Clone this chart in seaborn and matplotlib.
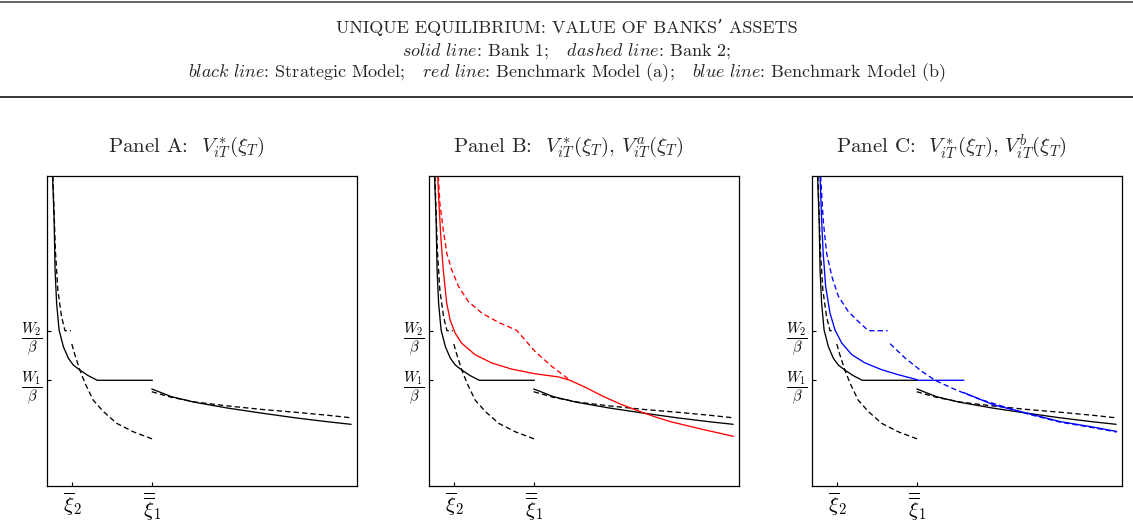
import numpy as np
import pandas as pd
import matplotlib
matplotlib.use("Agg")
import matplotlib.pyplot as plt
from matplotlib.lines import Line2D
import seaborn as sns

# ---------------- data (axes span 0..10 in both directions) -------------
x_ticks = [0.81, 3.40]
x_tick_labels = [r"$\overline{\xi}_2$", r"$\overline{\overline{\xi}}_1$"]
y_ticks = [3.41, 5.01]
y_tick_labels = [r"$\dfrac{W_1}{\beta}$", r"$\dfrac{W_2}{\beta}$"]

panel_titles = [r"Panel A:  $V^*_{iT}(\xi_T)$",
                r"Panel B:  $V^*_{iT}(\xi_T)$, $V^a_{iT}(\xi_T)$",
                r"Panel C:  $V^*_{iT}(\xi_T)$, $V^b_{iT}(\xi_T)$"]

# Strategic model, bank 1 (black solid)
strat1_seg1_x = [0.18, 0.23, 0.26, 0.31, 0.39, 0.53, 0.69, 0.85, 1.06, 1.33, 1.62, 3.40]
strat1_seg1_y = [10.0, 8.58, 6.97, 5.90, 5.03, 4.49, 4.12, 3.90, 3.74, 3.56, 3.41, 3.41]
strat1_seg2_x = [3.38, 4.02, 4.77, 5.85, 6.93, 8.00, 9.07, 9.81]
strat1_seg2_y = [3.13, 2.88, 2.70, 2.51, 2.35, 2.20, 2.07, 1.99]
# Strategic model, bank 2 (black dashed)
strat2_seg1_x = [0.19, 0.27, 0.35, 0.47, 0.58, 0.77]
strat2_seg1_y = [10.0, 7.61, 6.32, 5.46, 5.01, 5.01]
strat2_seg2_x = [0.80, 0.90, 1.06, 1.23, 1.49, 1.82, 2.25, 2.78, 3.39]
strat2_seg2_y = [4.58, 4.23, 3.74, 3.31, 2.77, 2.40, 2.02, 1.75, 1.52]
strat2_seg3_x = [3.38, 4.02, 4.77, 5.85, 6.93, 8.00, 9.07, 9.81]
strat2_seg3_y = [3.04, 2.86, 2.71, 2.58, 2.47, 2.38, 2.28, 2.20]

# Benchmark model (a), bank 1 (red solid)
benchA1_x = [0.28, 0.32, 0.38, 0.46, 0.57, 0.68, 0.84, 1.05, 1.48, 2.02, 2.67, 3.42, 4.17, 4.55,
             5.09, 5.62, 6.16, 6.70, 7.24, 7.77, 8.31, 8.85, 9.39, 9.82]
benchA1_y = [10.0, 9.13, 8.05, 6.98, 5.90, 5.36, 4.94, 4.61, 4.24, 3.97, 3.77, 3.62, 3.52, 3.41,
             3.16, 2.89, 2.65, 2.44, 2.25, 2.08, 1.95, 1.82, 1.70, 1.60]
# Benchmark model (a), bank 2 (red dashed)
benchA2_x = [0.30, 0.35, 0.46, 0.57, 0.73, 0.95, 1.27, 1.70, 2.24, 2.83, 3.42, 3.96, 4.55]
benchA2_y = [10.0, 9.13, 8.27, 7.52, 6.98, 6.44, 5.95, 5.58, 5.28, 5.02, 4.34, 3.86, 3.41]

# Benchmark model (b), bank 1 (blue solid)
benchB1_seg1_x = [0.26, 0.31, 0.36, 0.44, 0.58, 0.74, 0.96, 1.28, 1.71, 2.25, 2.78, 3.32, 3.43, 4.90]
benchB1_seg1_y = [10.0, 8.59, 7.52, 6.44, 5.58, 5.04, 4.61, 4.24, 3.97, 3.75, 3.59, 3.45, 3.41, 3.41]
benchB1_seg2_x = [4.88, 5.85, 6.93, 8.00, 9.07, 9.83]
benchB1_seg2_y = [3.02, 2.62, 2.35, 2.08, 1.90, 1.76]
# Benchmark model (b), bank 2 (blue dashed)
benchB2_seg1_x = [0.28, 0.36, 0.47, 0.64, 0.85, 1.17, 1.49, 1.82, 2.44]
benchB2_seg1_y = [10.0, 8.59, 7.52, 6.76, 6.12, 5.63, 5.31, 5.01, 5.01]
benchB2_seg2_x = [2.52, 3.00, 3.54, 3.97, 4.51, 4.94, 5.47, 6.93, 8.00, 9.07, 9.83]
benchB2_seg2_y = [4.59, 4.13, 3.70, 3.41, 3.16, 2.98, 2.78, 2.33, 2.06, 1.88, 1.74]


def seg_frame(x, y, model, bank, seg):
    return pd.DataFrame({"x": x, "y": y, "model": model, "bank": bank, "seg": seg})


strategic = [
    seg_frame(strat1_seg1_x, strat1_seg1_y, "strategic", "1", "s1a"),
    seg_frame(strat1_seg2_x, strat1_seg2_y, "strategic", "1", "s1b"),
    seg_frame(strat2_seg1_x, strat2_seg1_y, "strategic", "2", "s2a"),
    seg_frame(strat2_seg2_x, strat2_seg2_y, "strategic", "2", "s2b"),
    seg_frame(strat2_seg3_x, strat2_seg3_y, "strategic", "2", "s2c"),
]
bench_a = [
    seg_frame(benchA1_x, benchA1_y, "a", "1", "a1"),
    seg_frame(benchA2_x, benchA2_y, "a", "2", "a2"),
]
bench_b = [
    seg_frame(benchB1_seg1_x, benchB1_seg1_y, "b", "1", "b1a"),
    seg_frame(benchB1_seg2_x, benchB1_seg2_y, "b", "1", "b1b"),
    seg_frame(benchB2_seg1_x, benchB2_seg1_y, "b", "2", "b2a"),
    seg_frame(benchB2_seg2_x, benchB2_seg2_y, "b", "2", "b2b"),
]
panels = [pd.concat(strategic), pd.concat(strategic + bench_a), pd.concat(strategic + bench_b)]

# ---------------- style ----------------
sns.set_style("white")
plt.rcParams["font.family"] = ["cmr10", "DejaVu Serif"]
plt.rcParams["mathtext.fontset"] = "cm"
plt.rcParams["axes.formatter.use_mathtext"] = True

palette = {"strategic": "black", "a": "#ff0000", "b": "#0000ff"}
dashes = {"1": "", "2": (4, 2.4)}

W, H = 1133, 525
fig = plt.figure(figsize=(W / 100, H / 100), dpi=100)

ax_lefts = [47, 429, 812]
ax_w, ax_h, ax_bottom = 310, 310, 39

for i, (left, df) in enumerate(zip(ax_lefts, panels)):
    ax = fig.add_axes([left / W, ax_bottom / H, ax_w / W, ax_h / H])
    sns.lineplot(data=df, x="x", y="y", hue="model", style="bank", units="seg",
                 estimator=None, sort=False, palette=palette, dashes=dashes,
                 hue_order=[m for m in ["strategic", "a", "b"] if m in df["model"].unique()],
                 linewidth=0.95, legend=False, ax=ax)
    ax.set_xlim(0, 10)
    ax.set_ylim(0, 10)
    ax.set_xlabel("")
    ax.set_ylabel("")
    ax.set_xticks(x_ticks)
    ax.set_xticklabels(x_tick_labels, fontsize=15)
    ax.set_yticks(y_ticks)
    ax.set_yticklabels(y_tick_labels, fontsize=10.5)
    ax.tick_params(axis="both", direction="in", length=3, width=0.8, colors="black",
                   bottom=True, left=True, top=False, right=False, pad=3)
    for sp in ax.spines.values():
        sp.set_color("black")
        sp.set_linewidth(0.9)
        sp.set_visible(True)
    ax.text(0.45, 1 + 29 / ax_h, panel_titles[i], transform=ax.transAxes,
            ha="center", va="center", fontsize=15)

# header
fig.add_artist(Line2D([0, 1], [1 - 2 / H, 1 - 2 / H], color="0.3", lw=1.2))
fig.add_artist(Line2D([0, 1], [1 - 97 / H, 1 - 97 / H], color="black", lw=1.1))
fig.text(0.5, 1 - 27 / H, "UNIQUE EQUILIBRIUM: VALUE OF BANKS\u2019 ASSETS",
         ha="center", va="center", fontsize=13)
fig.text(0.5, 1 - 51 / H,
         r"$\mathit{solid\ line}$: Bank 1;   $\mathit{dashed\ line}$: Bank 2;",
         ha="center", va="center", fontsize=13)
fig.text(0.5, 1 - 73 / H,
         r"$\mathit{black\ line}$: Strategic Model;   $\mathit{red\ line}$: Benchmark Model (a);   "
         r"$\mathit{blue\ line}$: Benchmark Model (b)",
         ha="center", va="center", fontsize=13)

fig.savefig("out.png", dpi=100)
